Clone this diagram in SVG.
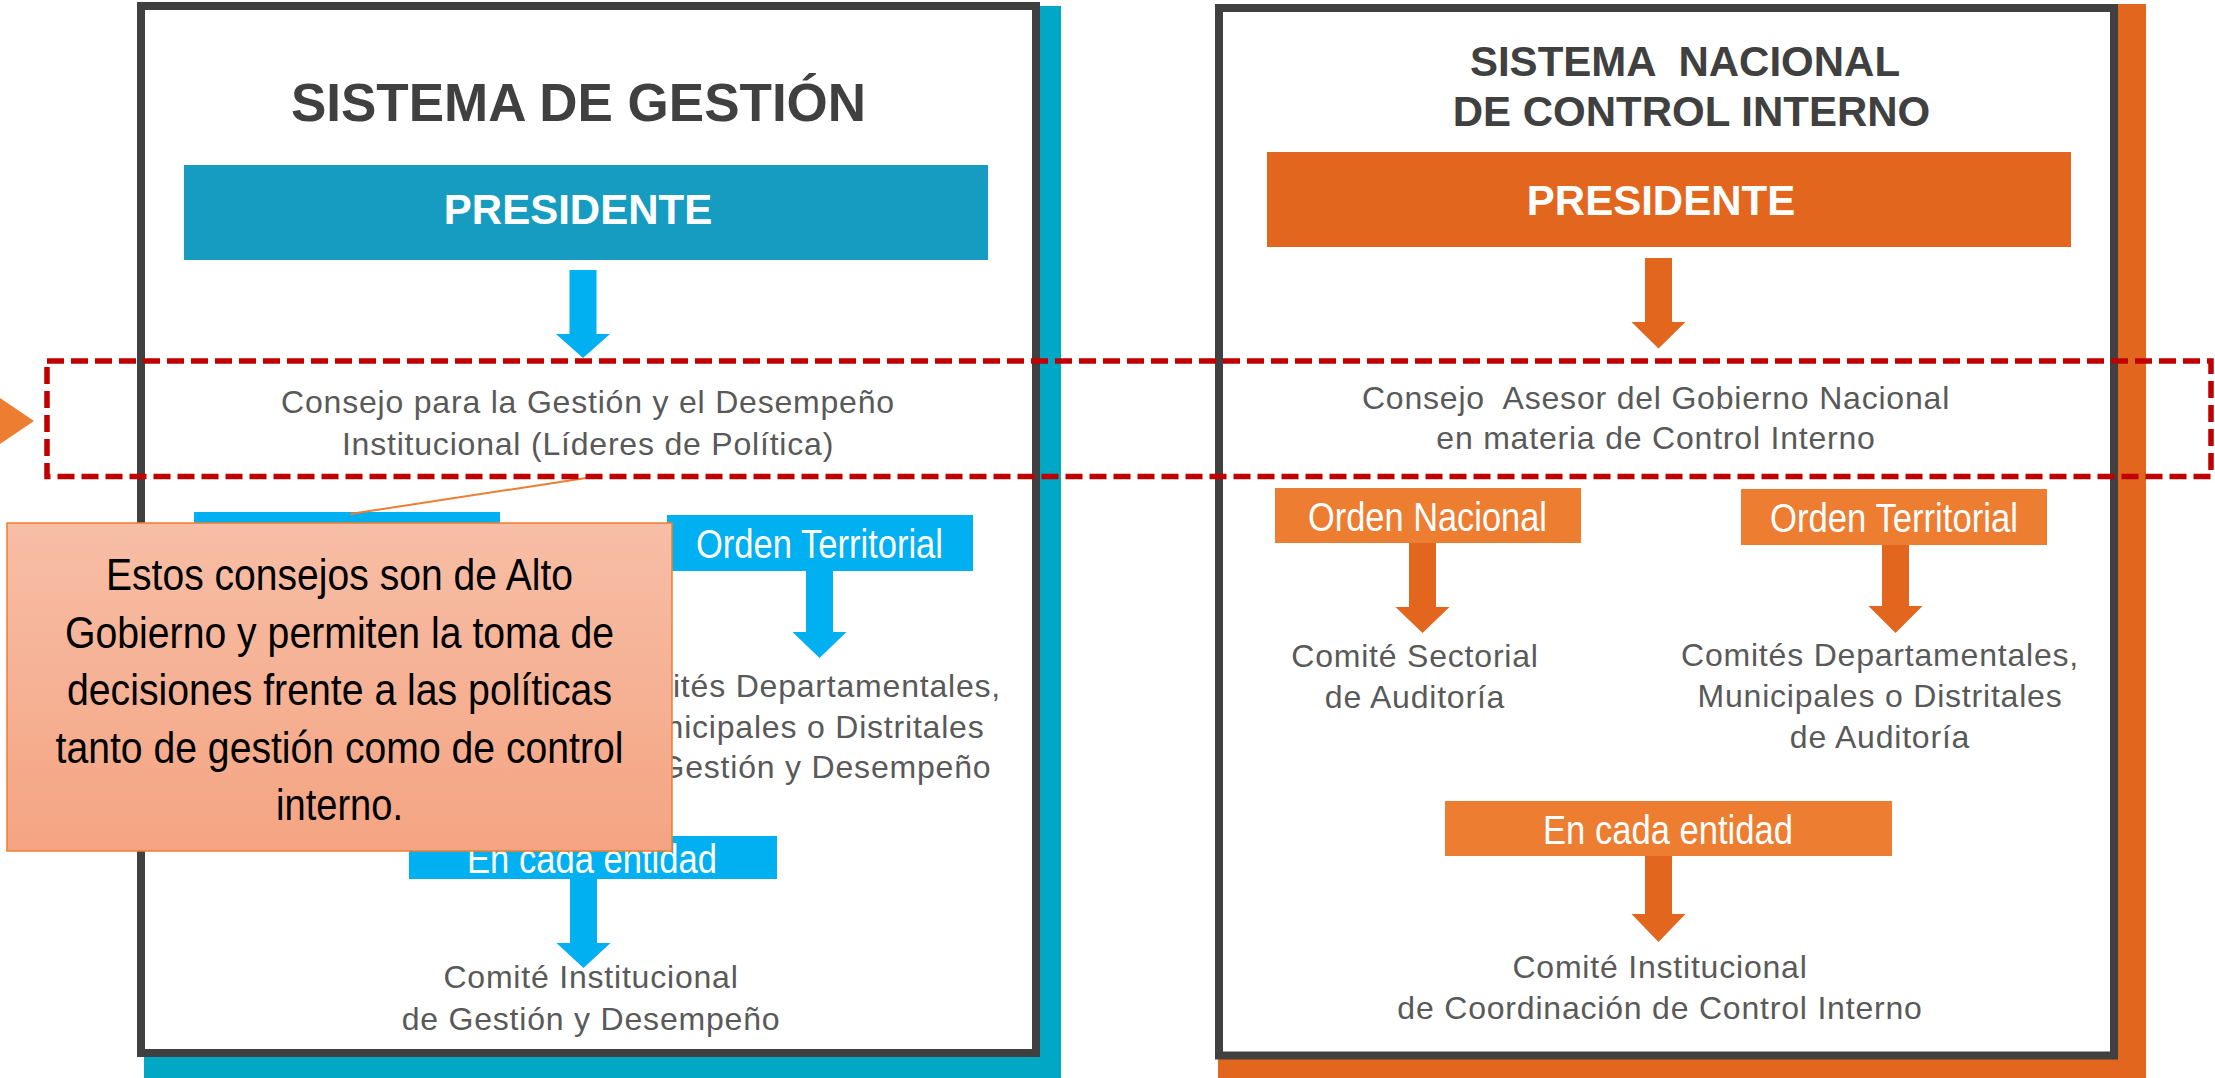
<svg xmlns="http://www.w3.org/2000/svg" width="2215" height="1078" viewBox="0 0 2215 1078">
<defs>
<linearGradient id="calloutFill" x1="0" y1="0" x2="0" y2="1">
<stop offset="0" stop-color="#F7BEA6"/>
<stop offset="1" stop-color="#F4A482"/>
</linearGradient>
<style>
.frame{fill:#ffffff;stroke:#404040;stroke-width:8}
.title{font-family:"Liberation Sans",Arial,sans-serif;font-weight:bold;fill:#404040;text-anchor:middle}
.pres{font-family:"Liberation Sans",Arial,sans-serif;font-weight:bold;font-size:42px;fill:#ffffff;text-anchor:middle}
.lbl{font-family:"Liberation Sans Narrow","Arial Narrow","Liberation Sans",Arial,sans-serif;font-size:41px;fill:#ffffff;text-anchor:middle}
.gray{font-family:"Liberation Sans",Arial,sans-serif;font-size:32px;fill:#595959;text-anchor:middle;letter-spacing:0.8px}
.note{font-family:"Liberation Sans Narrow","Arial Narrow","Liberation Sans",Arial,sans-serif;font-size:44px;fill:#000000;text-anchor:middle}
.ab{fill:#00B0F0}
.ao{fill:#E2661D}
.boxb{fill:#00B0F0}
.boxo{fill:#ED7D31}
</style>
</defs>
<rect width="2215" height="1078" fill="#ffffff"/>

<g id="panel-gestion">
<rect x="144" y="6" width="917" height="1075" fill="#00A8C6"/>
<rect class="frame" x="141" y="6" width="895" height="1047"/>
<text class="title" x="578.5" y="121" font-size="53">SISTEMA DE GESTIÓN</text>
</g>

<g id="panel-control">
<rect x="1218" y="4" width="928" height="1077" fill="#E2661D"/>
<rect class="frame" x="1219" y="8" width="895" height="1047.5"/>
<text class="title" x="1685" y="76" font-size="42" xml:space="preserve">SISTEMA  NACIONAL</text>
<text class="title" x="1691.5" y="126" font-size="42">DE CONTROL INTERNO</text>
</g>

<g id="node-presidente-gestion">
<rect x="184" y="165" width="804" height="95" fill="#179CC1"/>
<text class="pres" x="578" y="224">PRESIDENTE</text>
</g>

<g id="node-presidente-control">
<rect x="1267" y="152" width="804" height="95" fill="#E2661D"/>
<text class="pres" x="1661" y="215">PRESIDENTE</text>
</g>

<g id="node-consejo-gestion">
<text class="gray" x="588" y="413">Consejo para la Gestión y el Desempeño</text>
<text class="gray" x="588" y="455">Institucional (Líderes de Política)</text>
</g>

<g id="node-consejo-control">
<text class="gray" x="1656" y="409" xml:space="preserve">Consejo  Asesor del Gobierno Nacional</text>
<text class="gray" x="1656" y="449">en materia de Control Interno</text>
</g>

<g id="node-orden-nacional-gestion">
<rect class="boxb" x="194" y="512" width="306" height="56"/>
</g>

<g id="node-orden-territorial-gestion">
<rect class="boxb" x="667" y="515" width="306" height="56"/>
<text class="lbl" x="819.5" y="558" textLength="247" lengthAdjust="spacingAndGlyphs">Orden Territorial</text>
</g>

<g id="node-comites-gestion">
<text class="gray" x="802" y="697">Comités Departamentales,</text>
<text class="gray" x="802" y="738">Municipales o Distritales</text>
<text class="gray" x="802" y="778">de Gestión y Desempeño</text>
</g>

<g id="node-entidad-gestion">
<rect class="boxb" x="409" y="836" width="368" height="43"/>
<text class="lbl" x="592" y="873" textLength="250" lengthAdjust="spacingAndGlyphs">En cada entidad</text>
</g>

<g id="node-comite-institucional-gestion">
<text class="gray" x="591" y="988">Comité Institucional</text>
<text class="gray" x="591" y="1030">de Gestión y Desempeño</text>
</g>

<g id="node-orden-nacional-control">
<rect class="boxo" x="1275" y="488" width="306" height="55"/>
<text class="lbl" x="1427.5" y="531" textLength="239" lengthAdjust="spacingAndGlyphs">Orden Nacional</text>
</g>

<g id="node-comite-sectorial-control">
<text class="gray" x="1415" y="667">Comité Sectorial</text>
<text class="gray" x="1415" y="708">de Auditoría</text>
</g>

<g id="node-orden-territorial-control">
<rect class="boxo" x="1741" y="489" width="306" height="56"/>
<text class="lbl" x="1894" y="532" textLength="248" lengthAdjust="spacingAndGlyphs">Orden Territorial</text>
</g>

<g id="node-comites-control">
<text class="gray" x="1880" y="666">Comités Departamentales,</text>
<text class="gray" x="1880" y="707">Municipales o Distritales</text>
<text class="gray" x="1880" y="748">de Auditoría</text>
</g>

<g id="node-entidad-control">
<rect class="boxo" x="1445" y="801" width="447" height="55"/>
<text class="lbl" x="1668" y="844" textLength="250" lengthAdjust="spacingAndGlyphs">En cada entidad</text>
</g>

<g id="node-comite-institucional-control">
<text class="gray" x="1660" y="978">Comité Institucional</text>
<text class="gray" x="1660" y="1019">de Coordinación de Control Interno</text>
</g>

<g id="connectors">
<polygon class="ab" points="569.5,270 596.5,270 596.5,334 610,334 583,358 556,334 569.5,334"/>
<polygon class="ab" points="806,571 833,571 833,632 846.5,632 819.5,658 792.5,632 806,632"/>
<polygon class="ab" points="570,879 597,879 597,943 610.5,943 583.5,968 556.5,943 570,943"/>
<polygon class="ao" points="1645,258 1672,258 1672,322 1685.5,322 1658.5,348.5 1631.5,322 1645,322"/>
<polygon class="ao" points="1409,543 1436,543 1436,607 1449.5,607 1422.5,633 1395.5,607 1409,607"/>
<polygon class="ao" points="1882,545 1909,545 1909,606 1922.5,606 1895.5,633 1868.5,606 1882,606"/>
<polygon class="ao" points="1645,856 1672,856 1672,914 1685.5,914 1658.5,942 1631.5,914 1645,914"/>
<line x1="350" y1="514" x2="599" y2="476" stroke="#ED7D31" stroke-width="2"/>
</g>

<g id="node-consejos-highlight">
<rect x="47" y="361" width="2164" height="115.5" fill="none" stroke="#C00000" stroke-width="5.5" stroke-dasharray="17 7"/>
<polygon points="0,398 34,421 0,444" fill="#ED7D31"/>
</g>

<g id="node-callout">
<rect x="7" y="523" width="665" height="328" fill="url(#calloutFill)" stroke="#ED7D31" stroke-width="1.5"/>
<text class="note" x="339.5" y="590" textLength="467" lengthAdjust="spacingAndGlyphs">Estos consejos son de Alto</text>
<text class="note" x="339.5" y="648" textLength="549" lengthAdjust="spacingAndGlyphs">Gobierno y permiten la toma de</text>
<text class="note" x="339.5" y="705" textLength="545" lengthAdjust="spacingAndGlyphs">decisiones frente a las políticas</text>
<text class="note" x="339.5" y="763" textLength="568" lengthAdjust="spacingAndGlyphs">tanto de gestión como de control</text>
<text class="note" x="339.5" y="820" textLength="127" lengthAdjust="spacingAndGlyphs">interno.</text>
</g>
</svg>
